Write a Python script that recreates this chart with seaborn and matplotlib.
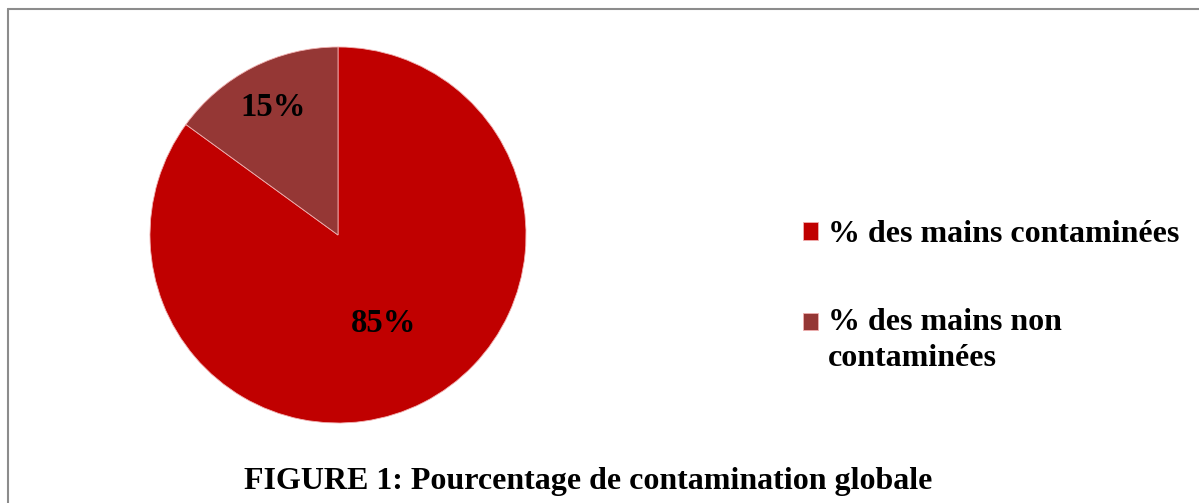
import numpy as np
import matplotlib
matplotlib.use("Agg")
import matplotlib.pyplot as plt
import seaborn as sns
from matplotlib.lines import Line2D
from matplotlib.patches import Rectangle
from matplotlib.legend_handler import HandlerPatch

# data
categories = ["% des mains contaminées", "% des mains non\ncontaminées"]
values = [85, 15]
colors = ["#C00000", "#953735"]
title = "FIGURE 1: Pourcentage de contamination globale"

sns.set_theme(style="white")
plt.rcParams["font.family"] = ["Liberation Serif", "DejaVu Serif"]
plt.rcParams["text.color"] = "black"

W, H = 1199, 503
fig = plt.figure(figsize=(W / 100, H / 100), dpi=100)

# pie axes: center (338, 235), radius 188 px
cx, cy, r = 338, 235, 188
ax = fig.add_axes([(cx - r) / W, (H - cy - r) / H, 2 * r / W, 2 * r / H])
wedges, texts, autotexts = ax.pie(
    values, colors=colors, startangle=90, counterclock=False,
    autopct="%d%%", pctdistance=0.6,
    wedgeprops=dict(edgecolor="#f0b0b0", linewidth=0.6),
    textprops=dict(fontsize=23.5, fontweight="bold", color="black"),
)
# label radii as in the reference
label_r = [0.53, 0.76]
for w, t, lr in zip(wedges, autotexts, label_r):
    ang = np.deg2rad((w.theta1 + w.theta2) / 2)
    t.set_position((lr * np.cos(ang), lr * np.sin(ang)))
ax.set_aspect("equal")
ax.set_xlim(-1, 1)
ax.set_ylim(-1, 1)


# push the second handle up to the first line of its two-line label
def shifted_patch(dy):
    def f(legend, orig_handle, xdescent, ydescent, width, height, fontsize):
        return Rectangle((-xdescent, -ydescent + dy), width, height)
    return f


leg = fig.legend(
    wedges, categories,
    loc="center left", bbox_to_anchor=(803 / W, 1 - 296.5 / H),
    frameon=False, prop=dict(weight="bold", size=23),
    handlelength=0.48, handleheight=0.48, handletextpad=0.3,
    labelspacing=1.85, borderpad=0, borderaxespad=0,
    handler_map={wedges[1]: HandlerPatch(patch_func=shifted_patch(13.5))},
)
for t in leg.get_texts():
    t.set_linespacing(1.3)

fig.text(588 / W, 1 - 482 / H, title, ha="center", va="center",
         fontsize=23, fontweight="bold")

# frame: left and top edges only
fig.add_artist(Line2D([8 / W, 8 / W], [0, 1 - 9 / H], transform=fig.transFigure,
                      color="#8c8c8c", linewidth=1.5))
fig.add_artist(Line2D([8 / W, 1], [1 - 9 / H, 1 - 9 / H], transform=fig.transFigure,
                      color="#8c8c8c", linewidth=1.5))

fig.savefig("out.png", dpi=100)
